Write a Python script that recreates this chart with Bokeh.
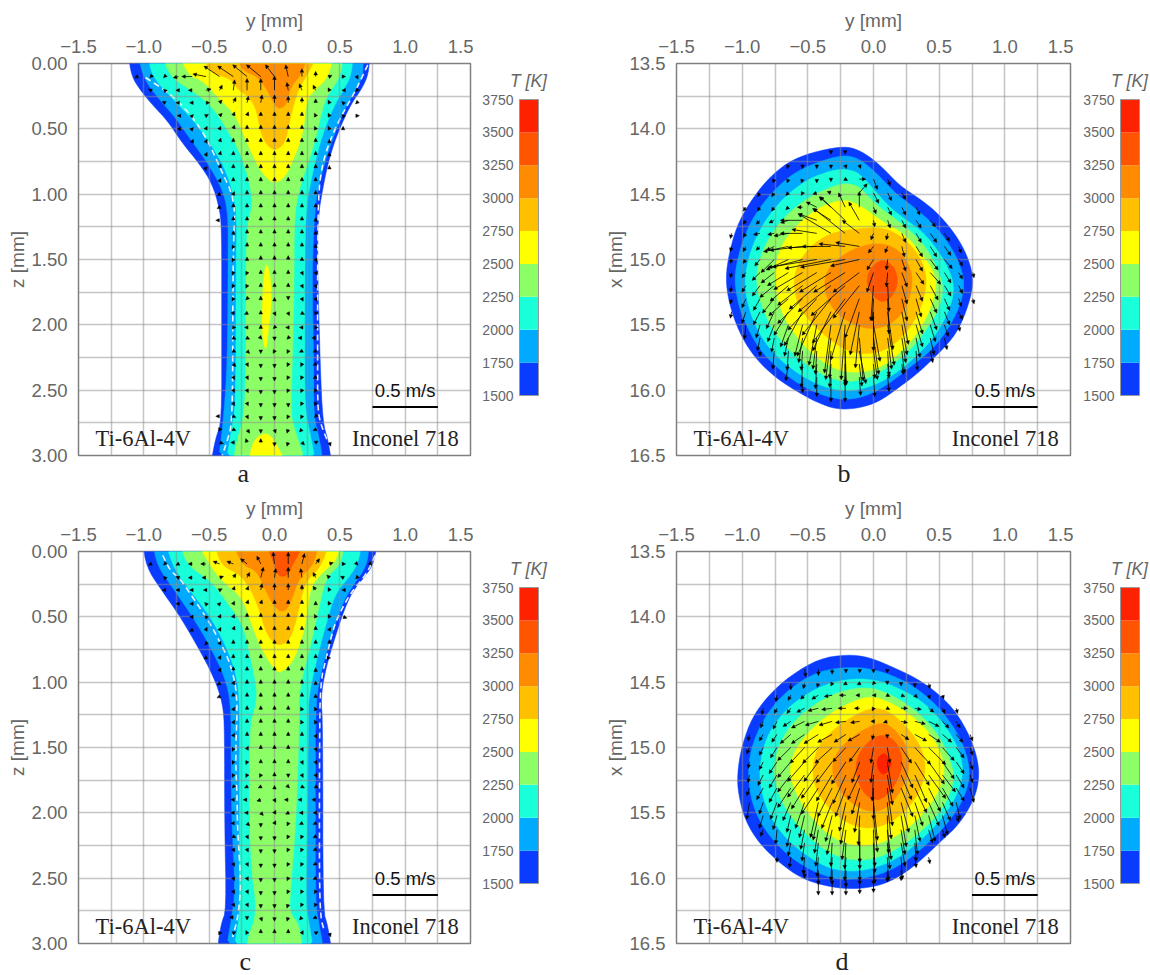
from bokeh.plotting import figure
from bokeh.layouts import column, row
from bokeh.embed import file_html
from bokeh.resources import INLINE
from bokeh.models import Range1d, FixedTicker, Label, Arrow, NormalHead, ColumnDataSource, NumeralTickFormatter, Title, Spacer

# ---------- colour scale ----------
bar_levels = [1500, 1750, 2000, 2250, 2500, 2750, 3000, 3250, 3500, 3750]
bar_colors = ["#0A3CFF", "#00AAFF", "#19FFD9", "#8CFF66", "#FFFF00", "#FFC000", "#FF8C00", "#FF5500", "#FF2200"]

y_ticks = [-1.5, -1.0, -0.5, 0.0, 0.5, 1.0, 1.5]
y_labels = ["\u22121.5", "\u22121.0", "\u22120.5", "0.0", "0.5", "1.0", "1.5"]
y_grid = [-1.25, -1.0, -0.75, -0.5, -0.25, 0.0, 0.25, 0.5, 0.75, 1.0, 1.25]
z_ticks = [0.0, 0.5, 1.0, 1.5, 2.0, 2.5, 3.0]
z_grid = [0.25, 0.5, 0.75, 1.0, 1.25, 1.5, 1.75, 2.0, 2.25, 2.5, 2.75]
x_ticks = [13.5, 14.0, 14.5, 15.0, 15.5, 16.0, 16.5]
x_grid = [13.75, 14.0, 14.25, 14.5, 14.75, 15.0, 15.25, 15.5, 15.75, 16.0, 16.25]

# ---------- isotherms, panel a (y, z) ----------
a_1500 = [(-1.118,0),(-1.096,.095),(-1.023,.21),(-.927,.325),(-.818,.44),(-.709,.605),(-.573,.77),(-.477,.92),(-.423,1.1),(-.404,1.255),(-.404,2.0),(-.404,2.75),(-.45,2.86),(-.49,3),
          (.44,3),(.41,2.88),(.37,2.75),(.35,2.32),(.33,1.56),(.333,1.18),(.37,.95),(.42,.72),(.49,.515),(.586,.31),(.668,.195),(.72,.08),(.73,0)]
a_1750 = [(-1.05,0),(-.995,.13),(-.873,.285),(-.75,.425),(-.655,.565),(-.505,.77),(-.395,.97),(-.355,1.15),(-.355,1.5),(-.36,2.3),(-.395,2.78),(-.437,3),
          (.376,3),(.34,2.85),(.30,2.7),(.30,2.32),(.286,1.56),(.313,1.05),(.354,.87),(.42,.64),(.53,.36),(.627,.195),(.676,.095),(.68,0)]
a_2000 = [(-.968,0),(-.94,.095),(-.79,.26),(-.614,.44),(-.49,.615),(-.382,.795),(-.314,1.0),(-.287,1.18),(-.295,1.56),(-.295,2.58),(-.327,2.8),(-.377,3),
          (.32,3),(.273,2.83),(.232,2.65),(.232,2.07),(.232,1.56),(.24,1.1),(.30,.795),(.368,.54),(.45,.336),(.532,.196),(.586,.095),(.605,0)]
a_2250 = [(-.859,0),(-.805,.095),(-.655,.196),(-.49,.31),(-.355,.515),(-.245,.72),(-.178,.97),(-.17,1.1),(-.218,1.25),(-.218,2.32),(-.232,2.7),(-.30,2.93),(-.314,3),
          (.25,3),(.163,2.83),(.122,2.68),(.136,2.32),(.15,1.69),(.15,1.18),(.19,.95),(.30,.64),(.38,.285),(.45,.18),(.504,.095),(.53,0)]
a_2500 = [(-.736,0),(-.655,.095),(-.546,.13),(-.41,.285),(-.30,.39),(-.218,.59),(-.136,.77),(-.068,.87),(0,.92),(.082,.87),(.15,.72),(.218,.54),(.245,.285),(.30,.21),(.41,.11),(.455,0)]
a_2500_core = [(-.07,1.51),(-.095,1.81),(-.095,2.07),(-.068,2.22),(-.05,2.07),(-.02,1.81),(-.035,1.6)]
a_2500_base = [(-.205,3),(-.163,2.88),(-.068,2.82),(0,2.88),(.095,3)]
a_2750 = [(-.56,0),(-.49,.07),(-.327,.12),(-.287,.196),(-.19,.26),(-.136,.36),(-.11,.515),(-.068,.615),(0,.67),(.082,.615),(.122,.41),(.177,.21),(.245,.095),(.34,0)]
a_3000 = [(-.30,0),(-.245,.055),(-.136,.095),(-.055,.2),(0,.32),(.04,.35),(.095,.31),(.122,.18),(.218,.07),(.25,0)]
a_wall_left = [(-.987,.107),(-.80,.23),(-.65,.38),(-.52,.57),(-.42,.79),(-.30,1.05),(-.314,1.355),(-.32,1.95),(-.32,2.45),(-.33,2.78),(-.36,2.88),(-.40,3)]
a_wall_right = [(.714,.01),(.625,.2),(.5,.42),(.41,.625),(.36,.80),(.335,1.02),(.33,1.56),(.33,1.9),(.33,2.25),(.33,2.63),(.35,2.75),(.41,2.9)]

# ---------- isotherms, panel c (y, z) ----------
c_1500 = [(-1.01,0),(-.98,.12),(-.873,.285),(-.736,.477),(-.60,.706),(-.464,.96),(-.395,1.165),(-.382,1.37),(-.382,2.08),(-.368,2.745),(-.41,2.85),(-.442,3),
          (.44,3),(.41,2.87),(.37,2.745),(.37,1.32),(.354,1.11),(.395,.885),(.464,.655),(.532,.45),(.60,.30),(.71,.17),(.763,.08),(.785,0)]
c_1750 = [(-.933,0),(-.90,.107),(-.764,.30),(-.627,.50),(-.49,.73),(-.38,.96),(-.333,1.165),(-.333,1.57),(-.327,2.08),(-.30,2.59),(-.327,2.80),(-.376,3),
          (.382,3),(.34,2.85),(.313,2.69),(.313,1.83),(.313,1.32),(.327,1.06),(.38,.83),(.45,.60),(.518,.40),(.60,.26),(.71,.107),(.725,0)]
c_2000 = [(-.84,0),(-.764,.145),(-.627,.324),(-.49,.50),(-.38,.706),(-.30,.91),(-.267,1.114),(-.267,1.57),(-.267,2.59),(-.267,2.80),(-.32,3),
          (.305,3),(.26,2.82),(.24,2.69),(.25,2.08),(.26,1.32),(.26,1.11),(.327,.81),(.395,.553),(.464,.324),(.56,.21),(.64,.094),(.67,0)]
c_2250 = [(-.73,0),(-.668,.107),(-.49,.22),(-.355,.40),(-.245,.553),(-.19,.78),(-.13,1.06),(-.15,1.215),(-.19,1.32),(-.19,2.34),(-.13,2.77),(-.205,2.95),(-.213,3),
          (.218,3),(.19,2.85),(.114,2.77),(.122,2.59),(.164,2.08),(.19,1.32),(.185,1.06),(.286,.68),(.34,.426),(.395,.196),(.504,.107),(.54,0)]
c_2500 = [(-.60,0),(-.49,.107),(-.41,.22),(-.245,.35),(-.178,.553),(-.095,.757),(-.014,.885),(.04,.933),(.122,.87),(.19,.73),(.245,.527),(.273,.273),(.368,.158),(.477,.07),(.504,0)]
c_2750 = [(-.464,0),(-.41,.107),(-.273,.17),(-.19,.273),(-.123,.426),(-.055,.655),(.04,.73),(.136,.655),(.205,.35),(.245,.22),(.355,.12),(.423,0)]
c_3000 = [(-.327,0),(-.245,.107),(-.136,.145),(-.068,.30),(0,.426),(.068,.47),(.122,.40),(.19,.196),(.30,.107),(.34,0)]
c_3250 = [(-.068,0),(0,.107),(.027,.19),(.095,.19),(.136,.107),(.24,0)]
c_wall_left = [(-.855,.03),(-.80,.145),(-.72,.21),(-.62,.36),(-.505,.53),(-.416,.695),(-.34,.85),(-.28,1.1),(-.30,1.57),(-.285,1.9),(-.285,2.08),(-.26,2.5),(-.26,2.6),(-.28,2.8),(-.32,2.95)]
c_wall_right = [(.77,.03),(.707,.17),(.58,.32),(.49,.49),(.45,.59),(.40,.8),(.35,1.0),(.345,1.5),(.344,1.9),(.344,2.1),(.344,2.5),(.352,2.8),(.38,2.9)]

# ---------- isotherms, panel b (y, x) ----------
b_1500 = [(-.254,14.137),(-.147,14.147),(-.04,14.205),(.067,14.295),(.20,14.435),(.335,14.524),(.469,14.626),(.603,14.778),(.696,14.93),(.75,15.084),(.758,15.21),(.71,15.39),(.63,15.57),(.496,15.72),(.335,15.873),(.20,15.975),(.04,16.09),(-.12,16.14),(-.28,16.148),(-.44,16.09),(-.60,16.0),(-.75,15.9),(-.897,15.76),(-1.005,15.593),(-1.085,15.39),(-1.125,15.186),(-1.11,15.0),(-1.045,14.753),(-.95,14.575),(-.817,14.396),(-.656,14.256),(-.469,14.18)]
b_1750 = [(-.254,14.205),(-.147,14.213),(-.054,14.27),(.04,14.358),(.174,14.5),(.308,14.6),(.455,14.727),(.576,14.88),(.656,15.033),(.696,15.186),(.656,15.364),(.563,15.542),(.442,15.695),(.28,15.822),(.12,15.95),(-.04,16.04),(-.20,16.077),(-.36,16.05),(-.536,15.975),(-.697,15.86),(-.844,15.72),(-.938,15.568),(-1.018,15.39),(-1.058,15.186),(-1.045,15.03),(-.978,14.8),(-.884,14.625),(-.75,14.46),(-.60,14.333),(-.43,14.256)]
b_2000 = [(-.254,14.307),(-.147,14.32),(-.08,14.37),(0,14.46),(.12,14.6),(.254,14.70),(.388,14.80),(.51,14.957),(.59,15.11),(.616,15.237),(.576,15.39),(.482,15.568),(.348,15.72),(.20,15.85),(.04,15.95),(-.12,16.0),(-.254,16.006),(-.415,15.962),(-.576,15.873),(-.737,15.746),(-.857,15.593),(-.938,15.415),(-.983,15.21),(-.964,15.033),(-.897,14.83),(-.79,14.65),(-.656,14.5),(-.496,14.384),(-.362,14.333)]
b_2250 = [(-.254,14.417),(-.134,14.427),(-.08,14.473),(.013,14.575),(.147,14.676),(.28,14.778),(.40,14.906),(.482,15.058),(.536,15.21),(.496,15.39),(.40,15.54),(.28,15.695),(.12,15.82),(-.04,15.91),(-.20,15.94),(-.36,15.9),(-.52,15.797),(-.67,15.67),(-.79,15.5),(-.87,15.31),(-.897,15.135),(-.857,14.957),(-.763,14.778),(-.63,14.625),(-.47,14.51)]
b_2500 = [(-.228,14.54),(-.12,14.575),(-.013,14.65),(.094,14.727),(.228,14.80),(.348,14.93),(.455,15.084),(.482,15.21),(.43,15.39),(.335,15.568),(.20,15.72),(.04,15.835),(-.12,15.868),(-.28,15.848),(-.44,15.746),(-.59,15.593),(-.697,15.415),(-.75,15.21),(-.75,15.033),(-.683,14.855),(-.55,14.70),(-.388,14.587)]
b_2750 = [(-.254,14.778),(.013,14.753),(.147,14.778),(.308,14.906),(.40,15.084),(.40,15.237),(.335,15.44),(.20,15.62),(.04,15.72),(-.174,15.72),(-.36,15.593),(-.496,15.466),(-.59,15.313),(-.608,15.16),(-.576,15.033),(-.496,14.918),(-.388,14.83)]
b_3000 = [(.067,14.875),(.20,14.93),(.28,15.058),(.30,15.186),(.254,15.364),(.147,15.49),(-.013,15.54),(-.174,15.49),(-.308,15.39),(-.375,15.237),(-.362,15.084),(-.228,14.957),(-.067,14.888)]
b_3250 = [(.08,15.0),(.16,15.058),(.188,15.16),(.16,15.262),(.08,15.334),(0,15.288),(-.054,15.186),(-.035,15.084),(.027,15.02)]

# ---------- isotherms, panel d (y, x) ----------
d_1500 = [(-.20,14.288),(-.04,14.308),(.12,14.372),(.335,14.474),(.496,14.59),(.63,14.73),(.737,14.92),(.796,15.1),(.804,15.25),(.763,15.404),(.656,15.583),(.522,15.71),(.335,15.888),(.174,16.003),(.013,16.067),(-.20,16.085),(-.39,16.054),(-.55,16.0),(-.71,15.888),(-.87,15.735),(-.978,15.557),(-1.03,15.353),(-1.037,15.2),(-1.005,14.996),(-.924,14.767),(-.79,14.59),(-.63,14.448),(-.415,14.32)]
d_1750 = [(-.20,14.385),(-.013,14.397),(.174,14.46),(.335,14.55),(.496,14.69),(.63,14.87),(.71,15.047),(.737,15.226),(.683,15.404),(.563,15.583),(.415,15.735),(.228,15.888),(.04,15.978),(-.174,16.016),(-.362,15.99),(-.55,15.9),(-.71,15.774),(-.844,15.608),(-.924,15.43),(-.956,15.226),(-.938,15.02),(-.844,14.79),(-.71,14.614),(-.55,14.487),(-.388,14.41)]
d_2000 = [(-.147,14.47),(.04,14.487),(.2,14.55),(.362,14.64),(.496,14.767),(.603,14.92),(.67,15.073),(.683,15.226),(.616,15.404),(.51,15.557),(.362,15.71),(.2,15.837),(.04,15.914),(-.147,15.952),(-.335,15.927),(-.496,15.837),(-.656,15.71),(-.79,15.53),(-.857,15.328),(-.87,15.15),(-.817,14.92),(-.697,14.74),(-.55,14.614),(-.362,14.512)]
d_2250 = [(-.094,14.537),(.067,14.563),(.254,14.665),(.40,14.79),(.522,14.945),(.603,15.15),(.616,15.25),(.55,15.43),(.43,15.583),(.28,15.71),(.094,15.825),(-.094,15.87),(-.28,15.837),(-.442,15.735),(-.59,15.583),(-.71,15.404),(-.763,15.2),(-.737,15.02),(-.643,14.84),(-.496,14.7),(-.308,14.588)]
d_2500 = [(0,14.606),(.147,14.665),(.308,14.767),(.455,14.92),(.536,15.1),(.536,15.25),(.442,15.43),(.308,15.583),(.147,15.697),(-.04,15.76),(-.228,15.735),(-.388,15.633),(-.536,15.455),(-.643,15.226),(-.616,15.047),(-.496,14.88),(-.335,14.741),(-.147,14.64)]
d_2750 = [(0,14.69),(.134,14.73),(.28,14.87),(.375,15.02),(.40,15.175),(.348,15.353),(.228,15.506),(.067,15.608),(-.12,15.62),(-.308,15.506),(-.442,15.328),(-.469,15.15),(-.415,14.97),(-.28,14.843),(-.147,14.754)]
d_3000 = [(.067,14.8),(.174,14.87),(.254,14.996),(.276,15.15),(.228,15.3),(.12,15.455),(-.013,15.5),(-.174,15.43),(-.295,15.277),(-.32,15.124),(-.254,14.996),(-.094,14.87)]
d_3250 = [(.04,14.89),(.174,14.945),(.228,15.1),(.188,15.25),(.094,15.38),(0,15.41),(-.094,15.328),(-.142,15.175),(-.107,15.02)]
d_3500 = [(.08,15.035),(.134,15.1),(.134,15.15),(.08,15.218),(.027,15.16),(.027,15.085)]

# ---------- velocity, in 0.01 m/s: (row, first column, u per column, v per column) ----------
a_vel = [
 (.10,-10,[-2,-1,-1,-4,-8,-10,-12,-12,-11,-11,-7,-2,0,0,2,2,1],[1,1,1,1,0,-2,-8,-8,-9,-9,-9,-9,-6,-4,-1,0,2]),
 (.205,-9,[-2,-1,-2,-3,4,2,1,0,0,0,-1,-2,-2,-1,-1,-1],[-1,-1,0,0,-1,-4,-8,-9,-9,-11,-6,-5,-4,-2,0,1]),
 (.30,-8,[-2,-2,-2,3,2,2,1,1,0,0,0,0,-1,-1,-1],[-1,0,0,0,-2,-4,-5,-6,-6,-5,-4,-3,-2,-1,1]),
 (.40,-7,[-1,1,2,2,1,1,0,0,0,0,-1,-1,-1,2],[0,-1,-1,-2,-3,-3,-3,-3,-3,-3,-2,-2,-1,0]),
 (.50,-7,[-1,1,1,1,1,0,0,0,0,0,-1,-1,0],[0,-1,-2,-2,-3,-3,-3,-3,-3,-3,-2,-2,-2]),
 (.60,-6,[1,1,1,0,0,0,0,0,0,0,0],[-2,-2,-3,-3,-3,-3,-3,-3,-3,-3,-2]),
 (.70,-5,[1,1,0,0,0,0,0,0,0,0],[-2,-3,-3,-3,-3,-3,-3,-3,-3,-2]),
 (.80,-5,[1,1,0,0,0,0,0,0,0,0],[-1,-3,-3,-3,-3,-3,-3,-3,-3,-2]),
 (.90,-4,[1,0,0,0,0,0,0,0],[-2,-3,-3,-3,-3,-3,-3,-3]),
 (1.0,-4,[-2,1,0,0,0,0,0,0],[1,-2,-3,-3,-3,-3,-3,-3]),
 (1.1,-4,[-2,0,0,0,0,0,0,0],[1,-3,-3,-3,-3,-3,-3,-3]),
 (1.2,-4,[-3,0,0,0,0,0,0,0],[0,-3,-3,-3,-3,-3,-3,-2]),
 (1.3,-3,[0,0,0,0,0,0,0],[-2,-3,-3,-3,-3,-3,-2]),
 (1.4,-3,[-1,0,0,0,0,0,0],[2,-3,-3,-3,-3,-3,-2]),
 (1.5,-3,[-1,0,0,0,0,0,1],[2,-2,-3,-3,-3,-2,2]),
 (1.6,-3,[-1,-1,0,0,0,1,1],[2,2,-2,-2,-2,2,2]),
 (1.7,-3,[-1,-1,0,0,0,1,1],[2,2,-2,-2,-2,2,2]),
 (1.8,-3,[-1,-1,0,0,0,1,1],[2,1,-2,-1,1,2,2]),
 (1.91,-3,[-2,-2,0,1,1,2,2],[0,1,-2,2,2,1,0]),
 (2.02,-3,[2,-2,0,-1,-2,-2,2],[0,0,-2,1,0,0,0]),
 (2.10,-3,[2,2,1,0,-1,-3,-3],[1,1,1,2,1,0,0]),
 (2.20,-3,[2,2,0,-1,-1,-2,-2],[1,2,2,2,2,1,1]),
 (2.30,-3,[2,1,0,0,-1,-1,-2],[2,2,3,3,2,2,1]),
 (2.40,-3,[1,1,0,0,-1,-1,-2],[2,2,3,3,2,2,1]),
 (2.50,-3,[1,1,0,0,-1,-1,-1],[2,2,3,3,2,2,2]),
 (2.60,-3,[1,1,0,0,0,-1,-1],[2,2,3,3,3,2,2]),
 (2.70,-4,[-3,2,1,0,0,-1,-1,-1],[0,1,2,3,3,2,2,1]),
 (2.80,-4,[2,2,2,0,1,-1,-2,-2],[0,1,3,3,3,3,2,1]),
 (2.90,-4,[3,-2,-1,0,0,-1,2,2,1],[1,0,-3,-3,3,3,2,-1,3]),
]
c_vel = [
 (.095,-9,[-2,-1,-2,-3,-4,-5,-5,-5,-3,-1,0,2,3,3,2,1,1],[1,1,1,0,0,-2,-2,-4,-6,-9,-9,-8,-4,-1,0,1,1]),
 (.20,-8,[-1,-2,-3,-3,3,2,2,2,1,0,-1,-2,-2,-2,-1],[-1,-1,0,0,-1,-3,-4,-8,-7,-8,-7,-4,-2,-1,1]),
 (.295,-8,[-2,-2,-2,-2,2,1,1,1,0,0,0,-2,-1,-1],[0,0,0,0,-1,-3,-3,-5,-5,-5,-4,-3,-2,0]),
 (.40,-7,[-2,-2,-1,1,1,1,1,0,0,0,0,-1],[0,0,-1,-1,-2,-3,-3,-3,-3,-3,-2,-2]),
 (.50,-6,[-2,-1,1,1,0,0,0,0,0,-1,-1,3],[0,-1,-2,-2,-3,-3,-3,-3,-3,-2,-2,1]),
 (.60,-6,[-2,1,1,1,0,0,0,0,0,0,1],[1,-2,-2,-3,-3,-3,-3,-3,-3,-3,-2]),
 (.705,-5,[-1,1,0,0,0,0,0,0,0,0],[1,-2,-3,-3,-3,-3,-3,-3,-3,-3]),
 (.815,-5,[0,1,0,0,0,0,0,0,0,1],[-2,-2,-3,-3,-3,-3,-3,-3,-3,0]),
 (.91,-4,[1,0,0,0,0,0,0,0],[-2,-3,-3,-3,-3,-3,-3,-2]),
 (1.01,-4,[-2,1,0,0,0,0,0,0],[1,-2,-3,-3,-3,-3,-3,-2]),
 (1.11,-4,[-2,0,0,0,0,0,0,0],[1,-3,-3,-3,-3,-3,-3,-2]),
 (1.21,-3,[1,0,0,0,0,-1,-1],[-2,-3,-3,-3,-3,-2,-2]),
 (1.31,-3,[1,0,0,0,0,-1,-1],[-2,-3,-3,-3,-3,-2,-2]),
 (1.41,-3,[1,0,0,0,0,0,1],[-2,-3,-3,-3,-3,-3,2]),
 (1.51,-3,[-1,1,0,0,0,1,1],[2,-2,-3,-3,-3,2,2]),
 (1.61,-3,[-1,-1,0,0,0,1,1],[2,2,-2,-2,-2,2,2]),
 (1.71,-3,[-1,-1,-1,0,0,1,1],[2,2,2,-2,2,2,2]),
 (1.80,-3,[-1,-2,-2,0,1,2,2],[1,1,1,-1,1,1,1]),
 (1.90,-3,[-2,-3,-3,1,-3,-3,-3],[0,0,1,2,0,0,0]),
 (2.00,-3,[-2,-2,2,1,-2,-2,-2],[0,0,2,-2,1,0,0]),
 (2.08,-3,[-2,2,0,1,-1,-2,-2],[0,2,3,-2,2,1,1]),
 (2.18,-3,[2,1,0,0,-1,-1,-2],[1,2,3,3,2,2,1]),
 (2.28,-3,[1,1,0,0,-1,-1,-2],[2,2,3,3,2,2,1]),
 (2.39,-3,[1,1,0,0,-1,-1,-2],[2,2,3,3,2,2,1]),
 (2.50,-3,[1,1,0,0,-1,-1,-2],[2,2,3,3,2,2,1]),
 (2.60,-3,[1,1,0,0,-1,-1,-1],[2,2,3,3,2,2,2]),
 (2.70,-3,[1,1,0,0,-1,-1,-1],[2,2,3,3,3,2,2]),
 (2.80,-3,[-3,0,1,0,-1,-2,-2],[0,2,3,3,3,2,1]),
 (2.92,-4,[2,2,-1,0,0,0,1,2,1],[0,-1,-2,-3,-3,-3,-2,-1,3]),
]
# (row, [(column, u, v), ...]), 0.01 m/s
b_vel = [
 (14.165,[(-3,0,3),(-2,0,3)]),
 (14.275,[(-6,-1,3),(-5,0,3),(-4,0,3),(-3,0,3),(-2,1,3),(-1,1,3)]),
 (14.385,[(-7,-1,3),(-6,-1,3),(-5,-1,3),(-4,0,3),(-3,0,2),(-2,2,1),(-1,5,0),(0,3,8),(1,2,5)]),
 (14.49,[(-8,-2,3),(-7,-2,3),(-6,-2,2),(-5,-1,2),(-4,-3,1),(-3,-3,-1),(-1,6,-7),(0,4,8),(1,3,6),(2,3,5)]),
 (14.60,[(-9,-2,3),(-8,-2,3),(-7,-2,3),(-6,-2,2),(-5,-4,0),(-4,-8,-4),(-3,-9,-8),(-2,-5,-11),(-1,0,-12),(0,2,5),(1,3,6),(2,3,6),(3,3,6)]),
 (14.70,[(-9,-2,3),(-8,-3,3),(-7,-4,2),(-6,-6,2),(-5,-17,0),(-4,-14,-5),(-3,-14,-9),(-2,-19,-18),(-1,-8,-14),(0,1,5),(1,2,6),(2,3,6),(3,4,6),(4,4,5)]),
 (14.80,[(-10,-1,4),(-9,-2,3),(-8,-5,1),(-7,-5,1),(-6,-11,2),(-5,-17,0),(-4,-19,-3),(-3,-25,-15),(-2,-24,-19),(-1,-13,-10),(0,-2,5),(1,-1,5),(2,3,7),(3,4,7),(4,5,7),(5,4,6)]),
 (14.90,[(-10,-1,4),(-9,-2,4),(-8,-3,3),(-7,-6,3),(-6,-19,4),(-5,-25,3),(-4,-22,1),(-3,-22,0),(-2,-20,-2),(-1,-18,-3),(0,-4,5),(1,-2,5),(2,2,8),(3,5,8),(4,5,8),(5,5,7),(6,2,5)]),
 (15.00,[(-10,-1,3),(-9,-2,3),(-8,-4,5),(-7,-10,10),(-6,-17,8),(-5,-23,6),(-4,-37,6),(-3,-35,7),(-2,-34,6),(-1,-22,5),(0,-5,8),(1,-1,8),(2,3,9),(3,5,9),(4,6,8),(5,6,7),(6,3,5)]),
 (15.10,[(-10,-1,4),(-9,-3,4),(-8,-6,6),(-7,-10,8),(-6,-16,10),(-5,-22,13),(-4,-23,14),(-3,-24,15),(-2,-24,15),(-1,-20,15),(0,-5,15),(1,-1,11),(2,4,11),(3,6,9),(4,8,9),(5,5,8),(6,3,5),(7,1,4)]),
 (15.20,[(-10,-1,5),(-9,-3,5),(-8,-6,8),(-7,-11,9),(-6,-14,12),(-5,-19,15),(-4,-21,18),(-3,-25,20),(-2,-26,23),(-1,-20,25),(0,-2,27),(1,1,20),(2,4,14),(3,5,12),(4,6,11),(5,5,8),(6,3,6)]),
 (15.30,[(-10,-1,4),(-9,-3,7),(-8,-5,9),(-7,-9,11),(-6,-15,13),(-5,-19,19),(-4,-22,24),(-3,-22,28),(-2,-25,34),(-1,-11,30),(0,-1,17),(1,1,27),(2,4,17),(3,4,14),(4,5,11),(5,4,9),(6,2,6),(7,1,4)]),
 (15.40,[(-10,-1,5),(-9,-3,9),(-8,-5,10),(-7,-6,13),(-6,-11,18),(-5,-14,26),(-4,-15,34),(-3,-14,30),(-2,-11,37),(-1,-7,33),(0,0,30),(1,4,29),(2,5,25),(3,5,17),(4,5,14),(5,4,10),(6,3,6)]),
 (15.50,[(-9,-1,11),(-8,-3,10),(-7,-5,13),(-6,-6,17),(-5,-6,24),(-4,-6,31),(-3,-5,37),(-2,-3,42),(-1,-3,33),(0,5,28),(1,5,31),(2,4,23),(3,5,17),(4,4,13),(5,3,9),(6,1,5)]),
 (15.60,[(-8,-2,10),(-7,-2,11),(-6,-3,14),(-5,-3,19),(-4,-3,24),(-3,-4,32),(-2,0,37),(-1,3,33),(0,4,28),(1,3,24),(2,3,19),(3,3,15),(4,3,13),(5,2,9)]),
 (15.70,[(-8,0,4),(-7,-1,14),(-6,-1,15),(-5,-1,15),(-4,-1,18),(-3,-1,21),(-2,1,26),(-1,5,25),(0,3,22),(1,1,19),(2,2,17),(3,1,15),(4,2,9)]),
 (15.80,[(-6,-2,13),(-5,-1,18),(-4,-1,19),(-3,-1,18),(-2,0,15),(-1,2,17),(0,1,11),(1,1,11),(2,1,8)]),
 (15.90,[(-5,0,12),(-4,0,15),(-3,0,19),(-2,0,19),(-1,1,14),(0,1,15),(1,1,11)]),
]
d_vel = [
 (14.40,[(-5,1,6),(-4,0,5),(-3,0,4),(-2,0,3),(-1,0,3),(0,0,3),(1,0,3)]),
 (14.51,[(-6,0,5),(-5,-1,4),(-4,-1,3),(-3,-1,2),(-2,-2,1),(-1,-2,1),(0,-1,1),(1,0,1),(2,0,2),(3,0,3),(4,1,4)]),
 (14.60,[(-7,-1,5),(-6,-2,4),(-5,-3,3),(-4,-5,3),(-3,-6,1),(-2,-5,0),(-1,-3,0),(0,-1,0),(1,2,1),(2,3,1),(3,2,2),(4,1,3),(5,1,3)]),
 (14.70,[(-8,-1,5),(-7,-2,4),(-6,-3,4),(-5,-6,3),(-4,-8,2),(-3,-8,1),(-2,-6,0),(-1,-4,0),(0,-1,2),(1,2,1),(2,5,0),(3,5,1),(4,4,3),(5,2,4),(6,1,4)]),
 (14.80,[(-8,-2,5),(-7,-3,6),(-6,-6,4),(-5,-10,5),(-4,-10,3),(-3,-10,3),(-2,-8,1),(-1,-7,1),(0,-2,0),(1,-3,1),(2,5,1),(3,8,2),(4,8,4),(5,5,5),(6,3,5)]),
 (14.90,[(-9,-1,5),(-8,-3,5),(-7,-4,6),(-6,-8,7),(-5,-10,7),(-4,-11,7),(-3,-11,6),(-2,-9,6),(-1,-9,5),(0,-1,4),(1,0,3),(2,6,4),(3,9,5),(4,9,6),(5,7,6),(6,5,6),(7,2,5)]),
 (15.00,[(-9,-2,5),(-8,-3,6),(-7,-5,8),(-6,-10,10),(-5,-11,12),(-4,-12,12),(-3,-13,12),(-2,-10,11),(-1,-8,11),(0,-2,12),(1,2,12),(2,8,12),(3,12,13),(4,13,13),(5,9,10),(6,6,8),(7,2,6)]),
 (15.11,[(-9,-1,5),(-8,-3,6),(-7,-6,9),(-6,-10,12),(-5,-13,15),(-4,-11,15),(-3,-12,16),(-2,-11,17),(-1,-6,16),(0,-2,16),(1,4,24),(2,9,20),(3,11,18),(4,12,17),(5,9,13),(6,6,9),(7,2,6)]),
 (15.21,[(-9,-1,6),(-8,-4,8),(-7,-6,10),(-6,-10,13),(-5,-13,17),(-4,-13,18),(-3,-12,20),(-2,-10,22),(-1,-9,19),(0,-1,20),(1,4,23),(2,8,19),(3,9,21),(4,13,18),(5,10,13),(6,6,10),(7,2,6)]),
 (15.31,[(-9,-2,6),(-8,-5,9),(-7,-6,11),(-6,-10,15),(-5,-10,16),(-4,-13,20),(-3,-11,22),(-2,-8,22),(-1,-6,20),(0,0,24),(1,4,29),(2,9,22),(3,9,19),(4,9,18),(5,8,14),(6,6,10),(7,3,11)]),
 (15.42,[(-9,-2,13),(-8,-3,9),(-7,-5,13),(-6,-6,14),(-5,-7,20),(-4,-6,27),(-3,-8,20),(-2,-5,22),(-1,-4,23),(0,3,29),(1,3,28),(2,6,23),(3,6,18),(4,8,18),(5,6,14),(6,3,13)]),
 (15.52,[(-8,-3,10),(-7,-3,11),(-6,-3,13),(-5,-4,17),(-4,-4,19),(-3,-5,20),(-2,-4,22),(-1,-1,23),(0,3,28),(1,1,29),(2,4,24),(3,4,20),(4,5,20),(5,4,15),(6,2,5)]),
 (15.63,[(-8,-2,5),(-7,-1,11),(-6,-3,13),(-5,-3,15),(-4,-3,18),(-3,-4,19),(-2,-3,23),(-1,0,25),(0,1,28),(1,3,23),(2,3,19),(3,2,19),(4,3,10),(5,2,6)]),
 (15.73,[(-6,-2,10),(-5,-2,14),(-4,-2,18),(-3,-1,18),(-2,-1,20),(-1,0,20),(0,1,23),(1,2,20),(2,3,18),(3,1,14)]),
 (15.84,[(-7,0,4),(-6,-1,8),(-5,-1,13),(-4,-1,15),(-3,-1,18),(-2,-1,18),(-1,0,18),(0,1,20),(1,1,18),(2,1,17),(3,1,8),(4,1,5)]),
 (15.94,[(-5,0,6),(-4,0,11),(-3,0,11),(-2,0,13),(-1,0,11),(0,0,11),(1,0,9),(2,0,8)]),
 (16.02,[(-4,0,11),(-3,0,11),(-2,0,11),(-1,0,10),(0,0,9)]),
]

# ---------- drawing ----------
GREY = "#666666"
SERIF = "Liberation Serif"
SANS = "Liberation Sans"

def smooth(pts, flat=False):
    """Round a read-off polygon with two corner-cutting passes."""
    if flat:
        pts = [(a, -0.08 if b == 0 else (3.08 if b == 3 else b)) for a, b in pts]
    for _ in range(2):
        out = []
        n = len(pts)
        for i in range(n):
            (x0, y0), (x1, y1) = pts[i], pts[(i + 1) % n]
            out.append((.75 * x0 + .25 * x1, .75 * y0 + .25 * y1))
            out.append((.25 * x0 + .75 * x1, .25 * y0 + .75 * y1))
        pts = out
    return pts

def smooth_open(pts):
    for _ in range(2):
        out = [pts[0]]
        for (x0, y0), (x1, y1) in zip(pts, pts[1:]):
            out.append((.75 * x0 + .25 * x1, .75 * y0 + .25 * y1))
            out.append((.25 * x0 + .75 * x1, .25 * y0 + .75 * y1))
        out.append(pts[-1])
        pts = out
    return pts

def panel(kind, tag, fw, left, top, bottom, bands, walls, heads, tag_offset):
    vertical = kind == "x"
    yr = Range1d(16.5, 13.5) if vertical else Range1d(3.0, 0.0)
    p = figure(frame_width=fw, frame_height=392, x_range=Range1d(-1.5, 1.5), y_range=yr,
               x_axis_location="above", toolbar_location=None, output_backend="svg",
               min_border_left=left, min_border_top=top, min_border_bottom=bottom, min_border_right=3,
               x_axis_label="y [mm]", y_axis_label="x [mm]" if vertical else "z [mm]",
               background_fill_color="white", border_fill_color="white")
    for pts, level in bands:
        s = smooth(pts, not vertical)
        p.patch([a for a, b in s], [b for a, b in s], fill_color=bar_colors[level], line_color=bar_colors[level], line_width=0.5)
    for w in walls:
        s = smooth_open(w)
        p.line([a for a, b in s], [b for a, b in s], line_color="white", line_width=1.6, line_dash="6 4", line_alpha=0.9)

    p.xaxis.ticker = FixedTicker(ticks=y_ticks)
    p.xaxis.major_label_overrides = dict(zip(y_ticks, y_labels))
    p.yaxis.ticker = FixedTicker(ticks=x_ticks if vertical else z_ticks)
    p.yaxis.formatter = NumeralTickFormatter(format="0.0" if vertical else "0.00")
    for ax in (p.xaxis[0], p.yaxis[0]):
        ax.axis_line_color = None
        ax.major_tick_line_color = None
        ax.minor_tick_line_color = None
        ax.major_label_text_font = SANS
        ax.major_label_text_font_size = "18.5px"
        ax.major_label_text_color = GREY
        ax.major_label_standoff = 5
        ax.axis_label_text_font = SANS
        ax.axis_label_text_font_size = "19px"
        ax.axis_label_text_font_style = "normal"
        ax.axis_label_text_color = GREY
    p.yaxis.axis_label_standoff = 0
    p.xaxis.axis_label_standoff = 6
    p.xgrid.ticker = FixedTicker(ticks=y_grid)
    p.ygrid.ticker = FixedTicker(ticks=x_grid if vertical else z_grid)
    for g in (p.xgrid[0], p.ygrid[0]):
        g.grid_line_color = "#8c8c8c"
        g.grid_line_alpha = 0.5
        g.grid_line_width = 1.5
        g.level = "guide"
    p.outline_line_color = "#808080"
    p.outline_line_width = 1.5

    src = ColumnDataSource(dict(x0=[h[0] for h in heads], y0=[h[1] for h in heads],
                                x1=[h[2] for h in heads], y1=[h[3] for h in heads]))
    p.add_layout(Arrow(end=NormalHead(size=3.6, fill_color="black", line_color="black", line_width=0.4),
                       source=src, x_start="x0", y_start="y0", x_end="x1", y_end="y1",
                       line_color="black", line_width=0.8))

    base = 13.5 if vertical else 0.0
    p.line([0.75, 1.25], [base + 2.628, base + 2.628], line_color="black", line_width=2, level="overlay")
    p.add_layout(Label(x=1.0, y=base + 2.505, text="0.5 m/s", text_align="center", text_baseline="alphabetic",
                       text_font=SANS, text_font_size="18.5px", text_color="#111111"))
    p.add_layout(Label(x=-1.37, y=base + 2.87, text="Ti-6Al-4V", text_align="left", text_baseline="alphabetic",
                       text_font=SERIF, text_font_size="22.5px", text_color="#222222"))
    p.add_layout(Label(x=1.41, y=base + 2.87, text="Inconel 718", text_align="right", text_baseline="alphabetic",
                       text_font=SERIF, text_font_size="22.5px", text_color="#222222"))
    p.add_layout(Title(text=tag, align="left", offset=tag_offset, standoff=2, text_font=SERIF,
                       text_font_size="26px", text_font_style="normal", text_color="#222222"), "below")
    return p

def bar(left, top, bottom, right):
    c = figure(frame_width=41, frame_height=392, x_range=Range1d(-.632, 1.526), y_range=Range1d(1044, 4024),
               toolbar_location=None, output_backend="svg", min_border_left=left, min_border_top=top,
               min_border_bottom=bottom, min_border_right=right, x_axis_location=None,
               background_fill_color="white", border_fill_color="white")
    c.quad(left=0, right=1, bottom=bar_levels[:-1], top=bar_levels[1:], fill_color=bar_colors, line_color=None)
    c.quad(left=0, right=1, bottom=bar_levels[0], top=bar_levels[-1], fill_color=None, line_color="#999999", line_width=1)
    c.grid.visible = False
    c.yaxis.ticker = FixedTicker(ticks=bar_levels)
    c.yaxis.axis_line_color = None
    c.yaxis.major_tick_line_color = None
    c.yaxis.minor_tick_line_color = None
    c.yaxis.major_label_text_font = SANS
    c.yaxis.major_label_text_font_size = "14px"
    c.yaxis.major_label_text_color = GREY
    c.yaxis.major_label_standoff = -12
    c.outline_line_color = None
    c.add_layout(Label(x=0.47, y=3890, text="T [K]", text_align="center", text_baseline="alphabetic",
                       text_font=SANS, text_font_size="17.5px", text_font_style="italic", text_color=GREY))
    return c

def grid_heads(rows, step):
    out = []
    for r, k0, us, vs in rows:
        for i, (u, v) in enumerate(zip(us, vs)):
            y = (k0 + i) * step
            out.append((y, r, y + u * .01, r + v * .01))
    return out

def sparse_heads(rows, step):
    out = []
    for r, cells in rows:
        for k, u, v in cells:
            y = k * step
            out.append((y, r, y + u * .01, r + v * .01))
    return out

bands_a = [(a_1500,0),(a_1750,1),(a_2000,2),(a_2250,3),(a_2500,4),(a_2500_core,4),(a_2500_base,4),(a_2750,5),(a_3000,6)]
bands_c = [(c_1500,0),(c_1750,1),(c_2000,2),(c_2250,3),(c_2500,4),(c_2750,5),(c_3000,6),(c_3250,7)]
bands_b = [(b_1500,0),(b_1750,1),(b_2000,2),(b_2250,3),(b_2500,4),(b_2750,5),(b_3000,6),(b_3250,7)]
bands_d = [(d_1500,0),(d_1750,1),(d_2000,2),(d_2250,3),(d_2500,4),(d_2750,5),(d_3000,6),(d_3250,7),(d_3500,8)]

pa = panel("z", "a", 392, 74, 61, 35, bands_a, [a_wall_left, a_wall_right], grid_heads(a_vel, .105), 159)
ca = bar(34, 61, 35, 3)
pb = panel("x", "b", 394, 125, 61, 35, bands_b, [], sparse_heads(b_vel, .108), 161)
cb = bar(35, 61, 35, 0)
pc = panel("z", "c", 392, 74, 61, 32, bands_c, [c_wall_left, c_wall_right], grid_heads(c_vel, .105), 161)
cc = bar(34, 61, 32, 3)
pd_ = panel("x", "d", 394, 125, 61, 32, bands_d, [], sparse_heads(d_vel, .105), 159)
cd = bar(35, 61, 32, 0)

layout = column(Spacer(height=2), row(Spacer(width=4), pa, ca, pb, cb), row(Spacer(width=4), pc, cc, pd_, cd))
open("out.html", "w").write(file_html(layout, INLINE))
